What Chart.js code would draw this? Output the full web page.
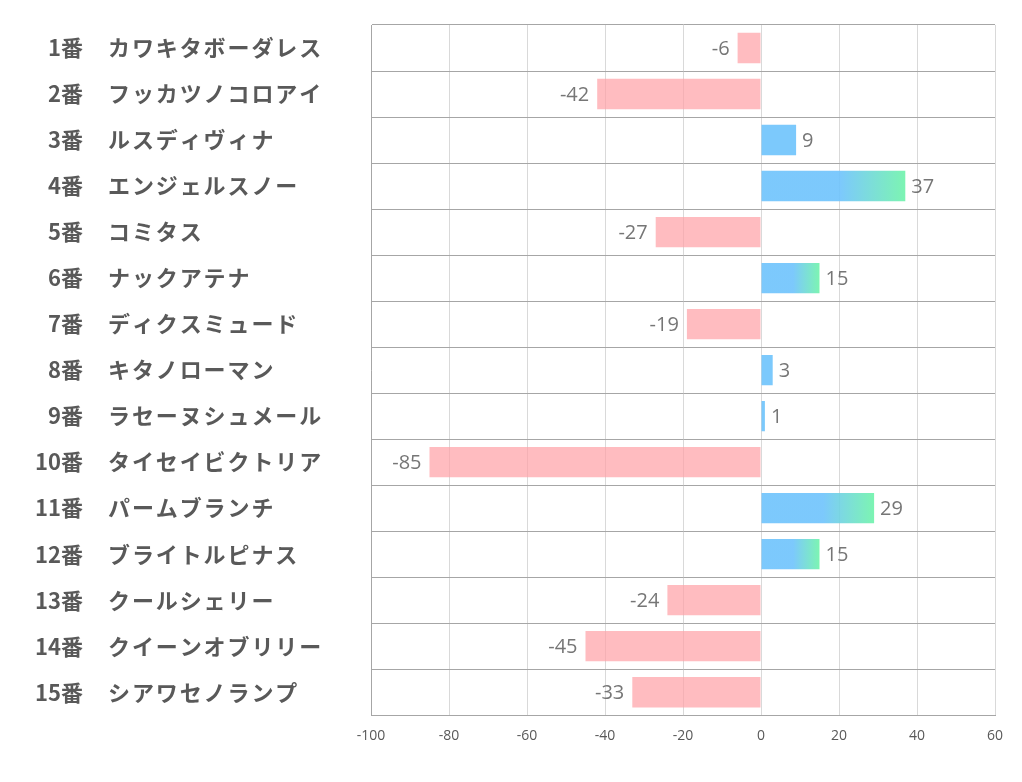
<!DOCTYPE html>
<html>
<head>
<meta charset="utf-8">
<script src="https://cdn.jsdelivr.net/npm/chart.js@4.4.1/dist/chart.umd.min.js"></script>
<style>
  html, body { margin: 0; padding: 0; background: #fff; }
  #wrap { width: 1022px; height: 782px; }
</style>
</head>
<body>
<div id="wrap"><canvas id="chart"></canvas></div>
<script>
// horse numbers and names (label split in two columns)
const numbers = ['1番', '2番', '3番', '4番', '5番', '6番', '7番', '8番', '9番', '10番', '11番', '12番', '13番', '14番', '15番'];
const names = ['カワキタボーダレス', 'フッカツノコロアイ', 'ルスディヴィナ', 'エンジェルスノー', 'コミタス', 'ナックアテナ',
  'ディクスミュード', 'キタノローマン', 'ラセーヌシュメール', 'タイセイビクトリア', 'パームブランチ', 'ブライトルピナス',
  'クールシェリー', 'クイーンオブリリー', 'シアワセノランプ'];
const scores = [-6, -42, 9, 37, -27, 15, -19, 3, 1, -85, 29, 15, -24, -45, -33];
const xMin = -100, xMax = 60, xStep = 20;

const PINK = 'rgba(255,160,165,0.7)';
const BLUE = 'rgba(110,195,252,0.9)';
const GREEN = 'rgba(110,243,170,0.9)';

function barColor(c) {
  const v = scores[c.dataIndex];
  if (v < 0) return PINK;
  if (v < 15) return BLUE;
  const chart = c.chart;
  const xs = chart.scales.x;
  if (!chart.chartArea || !xs) return BLUE;
  const x0 = xs.getPixelForValue(0), x1 = xs.getPixelForValue(v);
  const g = chart.ctx.createLinearGradient(x0, 0, x1, 0);
  g.addColorStop(0, BLUE);
  g.addColorStop(0.55, BLUE);
  g.addColorStop(1, GREEN);
  return g;
}

// left-hand labels and value labels
const labelPlugin = {
  id: 'labels',
  afterDatasetsDraw(chart) {
    const ctx = chart.ctx;
    const ys = chart.scales.y;
    ctx.save();
    ctx.fillStyle = '#595959';
    ctx.font = 'bold 22px "Noto Sans CJK JP"';
    ctx.textBaseline = 'middle';
    numbers.forEach((n, i) => {
      const y = ys.getPixelForValue(i);
      ctx.letterSpacing = '0px';
      ctx.textAlign = 'right';
      ctx.fillText(n, 83, y);
      ctx.letterSpacing = '1.9px';
      ctx.textAlign = 'left';
      ctx.fillText(names[i], 108, y);
    });
    ctx.letterSpacing = '0px';
    ctx.font = '20px "Open Sans"';
    ctx.fillStyle = '#767676';
    chart.getDatasetMeta(0).data.forEach((bar, i) => {
      const v = scores[i];
      if (v < 0) {
        ctx.textAlign = 'right';
        ctx.fillText(String(v), bar.x - 8, bar.y + 1);
      } else {
        ctx.textAlign = 'left';
        ctx.fillText(String(v), bar.x + 6, bar.y + 1);
      }
    });
    ctx.restore();
  }
};

new Chart(document.getElementById('chart'), {
  type: 'bar',
  data: {
    labels: numbers,
    datasets: [{
      data: scores,
      backgroundColor: barColor,
      borderWidth: 0,
      categoryPercentage: 1,
      barPercentage: 0.66
    }]
  },
  plugins: [labelPlugin],
  options: {
    indexAxis: 'y',
    responsive: true,
    maintainAspectRatio: false,
    animation: false,
    layout: { padding: { left: 371, right: 27, top: 25, bottom: 26 } },
    plugins: { legend: { display: false }, tooltip: { enabled: false } },
    scales: {
      x: {
        min: xMin, max: xMax,
        ticks: { stepSize: xStep, color: '#595959', font: { family: 'Open Sans', size: 14 }, padding: 12 },
        grid: { color: '#d9d9d9', drawTicks: false },
        border: { color: '#a6a6a6' }
      },
      y: {
        ticks: { display: false },
        grid: { color: '#a6a6a6', offset: true, drawTicks: false },
        border: { color: '#a6a6a6' }
      }
    }
  }
});
</script>
</body>
</html>
